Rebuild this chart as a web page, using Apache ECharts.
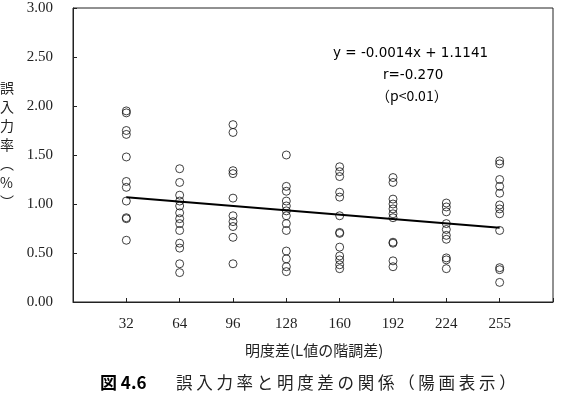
<!DOCTYPE html>
<html>
<head>
<meta charset="utf-8">
<script src="https://cdn.jsdelivr.net/npm/echarts@6/dist/echarts.min.js"></script>
<style>
  html, body { margin: 0; padding: 0; background: #fff; }
  #chart { width: 563px; height: 400px; }
</style>
</head>
<body>
<div id="chart"></div>
<script>
// 明度差（カテゴリ）
const xLabels = ['32', '64', '96', '128', '160', '192', '224', '255'];
// 各明度差での誤入力率（%）
const errRates = [
  [1.95, 1.93, 1.75, 1.71, 1.48, 1.23, 1.17, 1.03, 0.86, 0.85, 0.63],
  [1.36, 1.22, 1.09, 1.03, 0.98, 0.91, 0.85, 0.80, 0.73, 0.60, 0.55, 0.39, 0.30],
  [1.81, 1.73, 1.34, 1.31, 1.06, 0.88, 0.82, 0.77, 0.66, 0.39],
  [1.50, 1.18, 1.13, 1.03, 0.98, 0.93, 0.88, 0.80, 0.73, 0.52, 0.44, 0.36, 0.31],
  [1.38, 1.33, 1.28, 1.12, 1.07, 0.88, 0.71, 0.70, 0.56, 0.47, 0.43, 0.38, 0.34],
  [1.27, 1.22, 1.05, 1.00, 0.95, 0.90, 0.86, 0.61, 0.60, 0.42, 0.36],
  [1.01, 0.97, 0.92, 0.80, 0.74, 0.68, 0.64, 0.45, 0.43, 0.34],
  [1.44, 1.41, 1.25, 1.18, 1.11, 0.99, 0.95, 0.90, 0.73, 0.35, 0.33, 0.20]
];
// 回帰直線 y = a x + b
const slope = -0.0014;
const intercept = 1.1141;
const yTicks = [0, 0.5, 1.0, 1.5, 2.0, 2.5, 3.0];

// 両端に空のカテゴリを入れて余白を作る
const categories = [''].concat(xLabels, ['']);

const points = [];
errRates.forEach(function (col, i) {
  col.forEach(function (v) { points.push([xLabels[i], v]); });
});

const first = xLabels[0], last = xLabels[xLabels.length - 1];
const trend = [
  [first, slope * parseFloat(first) + intercept],
  [last, slope * parseFloat(last) + intercept]
];

const serif = '"Liberation Serif", "DejaVu Serif", serif';
const cjk = '"Noto Sans CJK JP", sans-serif';
const sans = '"DejaVu Sans", sans-serif';

const chart = echarts.init(document.getElementById('chart'));

chart.setOption({
  animation: false,
  grid: {
    left: 73, right: 10, top: 8, bottom: 98,
    show: true, borderColor: '#222', borderWidth: 1
  },
  xAxis: {
    type: 'category',
    data: categories,
    boundaryGap: false,
    axisLine: { lineStyle: { color: '#222' } },
    axisTick: { inside: true, length: 4, lineStyle: { color: '#222' } },
    axisLabel: { color: '#222', fontFamily: serif, fontSize: 15, margin: 15 },
    splitLine: { show: false }
  },
  yAxis: {
    type: 'value',
    min: yTicks[0], max: yTicks[yTicks.length - 1], interval: 0.5,
    axisLine: { show: true, lineStyle: { color: '#222' } },
    axisTick: { show: true, inside: true, length: 4, lineStyle: { color: '#222' } },
    axisLabel: {
      color: '#222', fontFamily: serif, fontSize: 15, margin: 20,
      formatter: function (v) { return v.toFixed(2); }
    },
    splitLine: { show: false }
  },
  series: [
    {
      type: 'scatter',
      data: points,
      symbol: 'circle',
      symbolSize: 8,
      itemStyle: { color: 'rgba(0,0,0,0)', borderColor: '#111', borderWidth: 1 }
    },
    {
      type: 'line',
      data: trend,
      symbol: 'none',
      lineStyle: { color: '#000', width: 2 }
    }
  ],
  graphic: [
    {
      type: 'text', left: 333, top: 46,
      style: { text: 'y = -0.0014x + 1.1141', font: '13.5px ' + sans, fill: '#000' }
    },
    {
      type: 'text', left: 383, top: 68,
      style: { text: 'r=-0.270', font: '13.5px ' + sans, fill: '#000' }
    },
    {
      type: 'text', left: 376, top: 89,
      style: { text: '（p<0.01）', font: '14px ' + cjk, fill: '#000' }
    },
    {
      type: 'text', left: 0, top: 78,
      style: {
        text: '誤\n入\n力\n率\n︵\n%\n︶',
        font: '14px ' + cjk, lineHeight: 19, fill: '#222', align: 'center', x: 7
      }
    },
    {
      type: 'text', left: 245, top: 343,
      style: { text: '明度差(L値の階調差)', font: '15px ' + cjk, fill: '#222' }
    },
    {
      type: 'text', left: 100, top: 374,
      style: { text: '図 4.6', font: 'bold 17px ' + cjk, fill: '#000' }
    },
    {
      type: 'text', left: 176, top: 374,
      style: {
        text: '誤入力率と明度差の関係（陽画表示）'.split('').join(' '),
        font: '16.5px ' + cjk, fill: '#222'
      }
    }
  ]
});
</script>
</body>
</html>
